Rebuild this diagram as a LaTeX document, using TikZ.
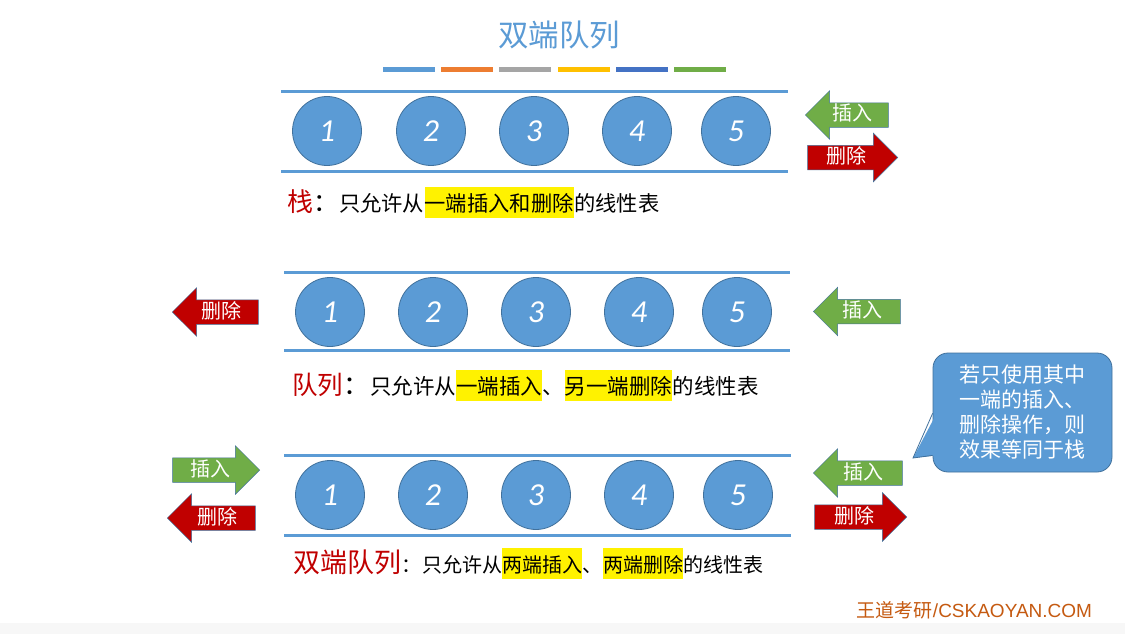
\documentclass[tikz,border=0pt]{standalone}
\usepackage{fontspec}
\setmainfont{Liberation Sans}
\newfontfamily\cjk{Noto Sans CJK SC}
\newfontfamily\numfont{Carlito}
\usetikzlibrary{shapes.arrows, calc, positioning}
\definecolor{qblue}{HTML}{5B9BD5}
\definecolor{qedge}{HTML}{41719C}
\definecolor{qgreen}{HTML}{70AD47}
\definecolor{qred}{HTML}{C00000}
\definecolor{qorange}{HTML}{ED7D31}
\definecolor{qgray}{HTML}{A5A5A5}
\definecolor{qgold}{HTML}{FFC000}
\definecolor{qnavy}{HTML}{4472C4}
\definecolor{qbrown}{HTML}{C55A11}

\begin{document}
\begin{tikzpicture}[x=1pt, y=-1pt,
    rail/.style={draw=qblue, line width=3pt},
    elem/.style={circle, fill=qblue, draw=qedge, line width=0.8pt, minimum size=69pt, inner sep=0pt,
        text=white, font=\numfont\itshape\fontsize{32}{32}\selectfont},
    arr/.style={single arrow, single arrow head extend=12pt, minimum height=87pt, minimum width=48pt,
        inner ysep=2pt, inner xsep=4pt, text height=16pt, text depth=4pt, draw=qedge, line width=0.5pt,
        text=white, font=\cjk\fontsize{20}{20}\selectfont, anchor=tip},
    ins/.style={arr, fill=qgreen},
    del/.style={arr, fill=qred},
    pointl/.style={shape border rotate=180},
    lbl/.style={anchor=base west, inner sep=0pt, text=qred, font=\cjk\fontsize{#1}{#1}\selectfont},
    txt/.style={anchor=base west, inner sep=0pt, font=\cjk\fontsize{#1}{#1}\selectfont},
    hl/.style={txt=#1, fill=yellow, inner ysep=5pt, text height=19pt, text depth=2pt},
    callbox/.style={rectangle, rounded corners=15pt, fill=qblue, draw=qedge, line width=0.8pt,
        minimum width=179pt, minimum height=119pt, text=white, align=left,
        font=\cjk\fontsize{21}{25}\selectfont}]

    \useasboundingbox (0,0) rectangle (1125,634);
    \fill[white] (0,0) rectangle (1125,634);
    \fill[black!3] (0,623) rectangle (1125,634);

    % title and colour bars
    \node[text=qblue, font=\cjk\fontsize{30.5}{30.5}\selectfont] (title) at (559,35) {双端队列};
    \foreach \c [count=\i from 0] in {qblue,qorange,qgray,qgold,qnavy,qgreen}
        \fill[\c] ({383+58.2*\i},67) rectangle ++(52,5);

    % stack
    \draw[rail] (281,91.5) -- (788,91.5);
    \draw[rail] (281,171.5) -- (788,171.5);
    \foreach \n/\x in {1/327,2/431,3/534,4/637,5/736}
        \node[elem] (s\n) at (\x,131) {\n};
    \node[ins, pointl, minimum height=83pt] (sin) at (805,115) {插入};
    \node[del, minimum height=90pt] (sdel) at (898,157.5) {删除};

    \node[lbl=26] (stk) at (287,211) {栈};
    \node[txt=25] (stk1) at (stk.base east) {：};
    \node[txt=21.3] (stk2) at (stk1.base east) {只允许从};
    \node[hl=21.3] (stk3) at (stk2.base east) {一端插入和删除};
    \node[txt=21.3] (stk4) at (stk3.base east) {的线性表};

    % queue
    \draw[rail] (284,272) -- (790,272);
    \draw[rail] (284,350) -- (790,350);
    \foreach \n/\x in {1/330,2/433,3/536,4/639,5/737}
        \node[elem] (q\n) at (\x,312) {\n};
    \node[del, pointl, minimum height=86pt] (qdel) at (172,312) {删除};
    \node[ins, pointl] (qin) at (813,311.5) {插入};

    \node[lbl=25.5] (que) at (292,394) {队列};
    \node[txt=26] (que1) at (que.base east) {：};
    \node[txt=21.5] (que2) at (que1.base east) {只允许从};
    \node[hl=21.5] (que3) at (que2.base east) {一端插入};
    \node[txt=21.5] (que4) at (que3.base east) {、};
    \node[hl=21.5] (que5) at (que4.base east) {另一端删除};
    \node[txt=21.5] (que6) at (que5.base east) {的线性表};

    % deque
    \draw[rail] (284,455) -- (791,455);
    \draw[rail] (284,535) -- (791,535);
    \foreach \n/\x in {1/330,2/433,3/536,4/639,5/738}
        \node[elem] (d\n) at (\x,495) {\n};
    \node[ins] (dinl) at (260,470) {插入};
    \node[del, pointl, minimum height=88pt] (ddell) at (167,518) {删除};
    \node[ins, pointl, minimum height=89pt] (dinr) at (813,473) {插入};
    \node[del, minimum height=92pt] (ddelr) at (907,517) {删除};

    \node[lbl=27] (deq) at (293,572) {双端队列};
    \node[txt=20] (deq1) at (deq.base east) {：};
    \node[txt=20] (deq2) at (deq1.base east) {只允许从};
    \node[hl=20] (deq3) at (deq2.base east) {两端插入};
    \node[txt=20] (deq4) at (deq3.base east) {、};
    \node[hl=20] (deq5) at (deq4.base east) {两端删除};
    \node[txt=20] (deq6) at (deq5.base east) {的线性表};

    % note
    \node[callbox] (note) at (1022.5,412.5) {若只使用其中\\一端的插入、\\删除操作，则\\效果等同于栈};
    \coordinate (notetip) at (913,458);
    \fill[qblue] ($(note.south west)+(4,-59)$) -- (notetip) -- ($(note.south west)+(4,-17)$) -- cycle;
    \draw[qedge, line width=0.8pt] ($(note.south west)+(0,-59)$) -- (notetip) -- ($(note.south west)+(0,-17)$);

    \node[text=qbrown, font=\fontsize{19}{19}\selectfont] (footer) at (974.5,610) {{\cjk 王道考研}/CSKAOYAN.COM};
\end{tikzpicture}
\end{document}
